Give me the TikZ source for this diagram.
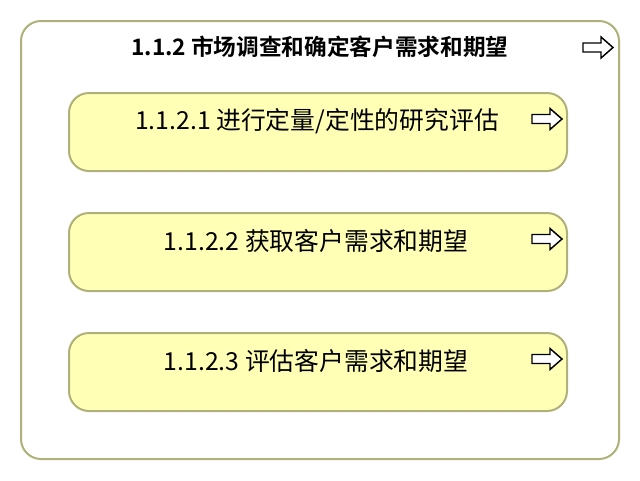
\documentclass[tikz,border=0pt]{standalone}
\usepackage{fontspec}
\newfontfamily\cjk{Noto Sans CJK SC}
\newfontfamily\cjkb{Noto Sans CJK SC Bold}
\definecolor{edgeol}{HTML}{B0B07A}
\definecolor{fillyl}{HTML}{FFFFB5}
\tikzset{
  outerbox/.style={draw=edgeol, line width=1.5pt, rounded corners=15pt, fill=white},
  innerbox/.style={draw=edgeol, line width=1.5pt, rounded corners=15pt, fill=fillyl},
  titletext/.style={font=\cjkb\fontsize{17}{20}\selectfont, inner sep=0pt},
  boxtext/.style={font=\cjk\fontsize{18.6}{22}\selectfont, inner sep=0pt},
  pics/hollowarrow/.style={code={
    \draw[black, line width=1.1pt, fill=white, line join=miter]
      (-15,-4.5) -- (3,-4.5) -- (3,-10.5) -- (15,0) -- (3,10.5) -- (3,4.5) -- (-15,4.5) -- cycle;
  }}
}
\begin{document}
\begin{tikzpicture}[x=0.75pt, y=-0.75pt]
\useasboundingbox (0,0) rectangle (640,480);
\fill[white] (0,0) rectangle (640,480);
\draw[outerbox] (21,21) rectangle (619,459);
\node[titletext] (title) at (320,47) {1.1.2 市场调查和确定客户需求和期望};
\pic at (598,47.5) {hollowarrow};
\draw[innerbox] (69,93) rectangle (567,171);
\node[boxtext] (t1) at (317,121) {1.1.2.1 进行定量/定性的研究评估};
\pic at (547,119) {hollowarrow};
\draw[innerbox] (69,213) rectangle (567,291);
\node[boxtext] (t2) at (316,241) {1.1.2.2 获取客户需求和期望};
\pic at (547,239) {hollowarrow};
\draw[innerbox] (69,333) rectangle (567,411);
\node[boxtext] (t3) at (316,361) {1.1.2.3 评估客户需求和期望};
\pic at (547,359) {hollowarrow};
\end{tikzpicture}
\end{document}
